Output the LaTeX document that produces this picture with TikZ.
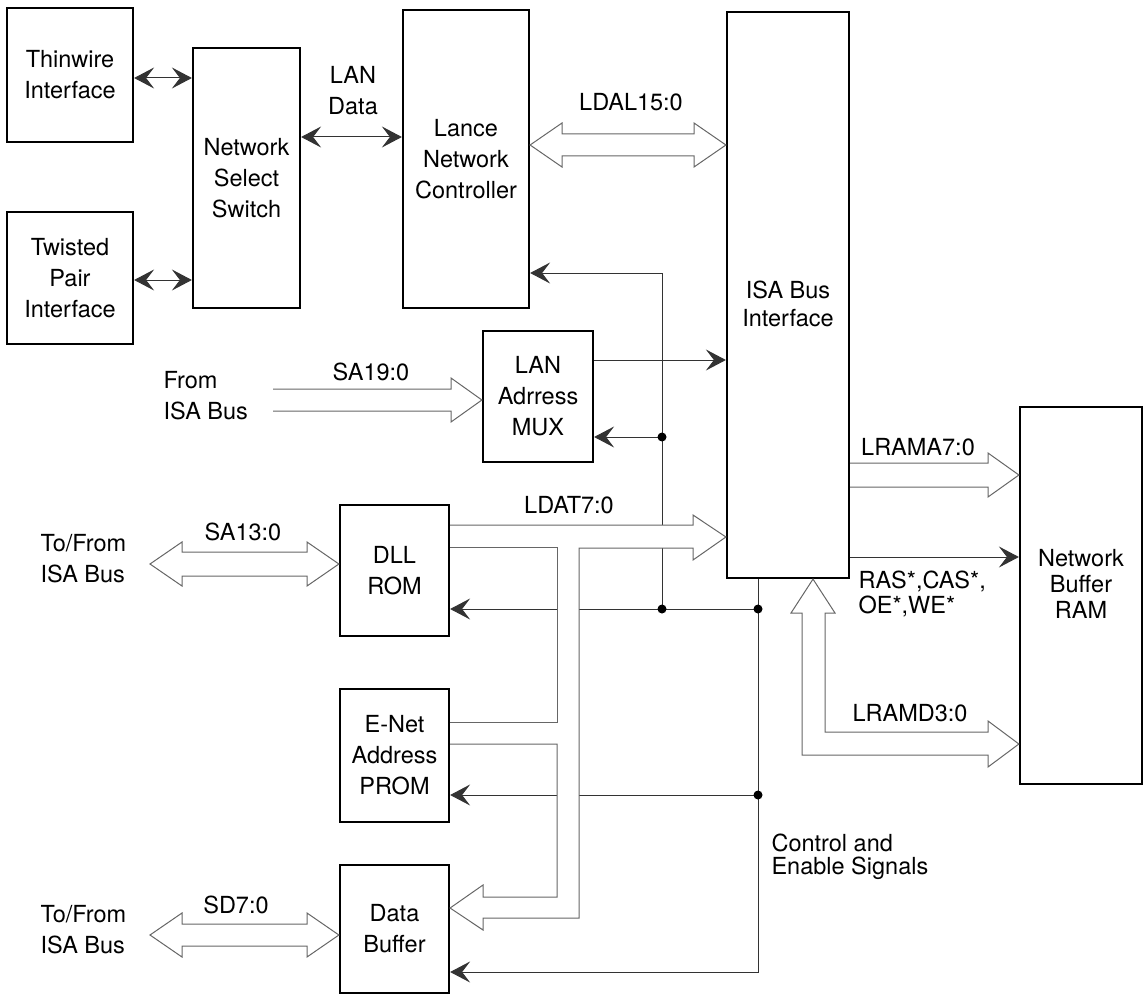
\documentclass[tikz,border=0pt]{standalone}
\usepackage{fontspec}
\setmainfont{TeX Gyre Heros}
\usetikzlibrary{calc,arrows.meta,positioning}

\begin{document}
\begin{tikzpicture}[x=1pt,y=1pt,>={Stealth[length=20pt,width=21pt,inset=8pt]},
		font=\fontsize{23.5}{31}\selectfont,
		box/.style={draw,line width=2.2pt,align=center,inner sep=0pt},
		sig/.style={line width=1pt,black!80},
		bus/.style={line width=1pt,black!60,line join=miter},
		dot/.style={circle,fill,inner sep=0pt,minimum size=9pt}]
		\useasboundingbox (0,0) rectangle (1145,-995);
		% Boxes
		\node[box,minimum width=126,minimum height=134] (thin) at (70,-75) {Thinwire\\Interface};
		\node[box,minimum width=126,minimum height=132] (twist) at (70,-278) {Twisted\\Pair\\Interface};
		\node[box,minimum width=107,minimum height=260] (nss) at (246.5,-178) {Network\\Select\\Switch};
		\node[box,minimum width=126,minimum height=298] (lance) at (466,-159) {Lance\\Network\\Controller};
		\node[box,minimum width=122,minimum height=566] (isa) at (788,-295) {};
		\node[align=center,font=\fontsize{23.5}{28}\selectfont] (isatext) at (788,-304) {ISA Bus\\Interface};
		\node[box,minimum width=110,minimum height=131] (mux) at (538,-396.5) {LAN\\Adrress\\MUX};
		\node[box,minimum width=109,minimum height=131] (dll) at (394.5,-570.5) {DLL\\ROM};
		\node[box,minimum width=109,minimum height=133] (prom) at (394.5,-755.5) {E-Net\\Address\\PROM};
		\node[box,minimum width=109,minimum height=128] (dbuf) at (394.5,-929) {Data\\Buffer};
		\node[box,minimum width=122,minimum height=377] (nbr) at (1081,-595.5) {};
		\node[align=center,font=\fontsize{23.5}{26}\selectfont] (nbrtext) at (1081,-584) {Network\\Buffer\\RAM};
		% Labels
		\node (lanlbl) at (353,-91) [align=center] {LAN\\Data};
		\node (ldallbl) at (631,-102) {LDAL15:0};
		\node (sa19lbl) at (371,-372) {SA19:0};
		\node (fromlbl) at (160,-396) [anchor=west,align=left] {From\\ISA Bus};
		\node (ldatlbl) at (569,-505) {LDAT7:0};
		\node (sa13lbl) at (243,-532) {SA13:0};
		\node (tofrom1) at (37,-559) [anchor=west,align=left] {To/From\\ISA Bus};
		\node (sd7lbl) at (236,-905) {SD7:0};
		\node (tofrom2) at (37,-930) [anchor=west,align=left] {To/From\\ISA Bus};
		\node (lramalbl) at (918,-447) {LRAMA7:0};
		\node (raslbl) at (855,-594) [anchor=west,align=left,font=\fontsize{23.5}{25}\selectfont] {RAS*,CAS*,\\OE*,WE*};
		\node (lramdlbl) at (910,-713) {LRAMD3:0};
		\node (ctllbl) at (768,-857) [anchor=west,align=left,font=\fontsize{23.5}{23}\selectfont] {Control and\\Enable Signals};
		% Free ends and junctions
		\coordinate (sa19end) at (273,-400);
		\coordinate (sa13end) at (150,-564);
		\coordinate (sd7end) at (150,-935);
		\coordinate (ja) at (662,-437);
		\coordinate (jb) at (662,-609);
		\coordinate (jc) at (758,-609);
		\coordinate (jd) at (758,-795);
		% Thin signals
		\draw[sig,<->] (thin.east |- 0,-78) -- (nss.west |- 0,-78);
		\draw[sig,<->] (twist.east |- 0,-280) -- (nss.west |- 0,-280);
		\draw[sig,<->] (nss.east |- 0,-137) -- (lance.west |- 0,-137);
		\draw[sig,->] (mux.east |- 0,-360) -- (isa.west |- 0,-360);
		\draw[sig,->] (ja) -- (mux.east |- ja);
		\draw[sig] (jb) -- (662,-548);
		\draw[sig,->] (662,-525) -- (662,-273) -- (lance.east |- 0,-273);
		\draw[sig,->] (isa.south -| jc) -- (758,-972) -- (dbuf.east |- 0,-972);
		\draw[sig] (jc) -- (579,-609);
		\draw[sig,->] (557,-609) -- (dll.east |- jc);
		\draw[sig] (jd) -- (579,-795);
		\draw[sig,->] (557,-795) -- (prom.east |- jd);
		\foreach \j in {ja,jb,jc,jd} \node[dot] at (\j) {};
		% Buses
		\draw[bus] (lance.east |- 0,-145) -- (562,-123) -- (562,-134) -- (694,-134) -- (694,-123) -- (isa.west |- 0,-145)
			-- (694,-167) -- (694,-156) -- (562,-156) -- (562,-167) -- cycle;
		\draw[bus] (sa19end |- 0,-389) -- (451,-389) -- (451,-378) -- (mux.west |- sa19end) -- (451,-422) -- (451,-411) -- (sa19end |- 0,-411);
		\draw[bus] (sa13end) -- (182,-542) -- (182,-552) -- (307,-552) -- (307,-542) -- (dll.west |- sa13end)
			-- (307,-586) -- (307,-576) -- (182,-576) -- (182,-586) -- cycle;
		\draw[bus] (sd7end) -- (182,-913) -- (182,-924) -- (307,-924) -- (307,-913) -- (dbuf.west |- sd7end)
			-- (307,-957) -- (307,-946) -- (182,-946) -- (182,-957) -- cycle;
		\draw[bus] (dll.east |- 0,-525) -- (693,-525) -- (693,-515) -- (isa.west |- 0,-537) -- (693,-560) -- (693,-548)
			-- (579,-548) -- (579,-918) -- (483,-918) -- (483,-930) -- (dbuf.east |- 0,-908) -- (483,-885) -- (483,-897)
			-- (557,-897) -- (557,-744) -- (prom.east |- 0,-744);
		\draw[bus] (prom.east |- 0,-722) -- (557,-722) -- (557,-547) -- (dll.east |- 0,-547);
		\draw[bus] (isa.east |- 0,-463) -- (988,-463) -- (988,-453) -- (nbr.west |- 0,-475) -- (988,-497) -- (988,-487) -- (isa.east |- 0,-487);
		\draw[sig,->] (isa.east |- 0,-557) -- (nbr.west |- 0,-557);
		\draw[bus] (825,-613) -- (835,-613) -- (isa.south -| 813,0) -- (791,-613) -- (802,-613) -- (802,-755) -- (988,-755)
			-- (988,-767) -- (nbr.west |- 0,-744) -- (988,-721) -- (988,-732) -- (825,-732) -- cycle;
	\end{tikzpicture}
\end{document}
